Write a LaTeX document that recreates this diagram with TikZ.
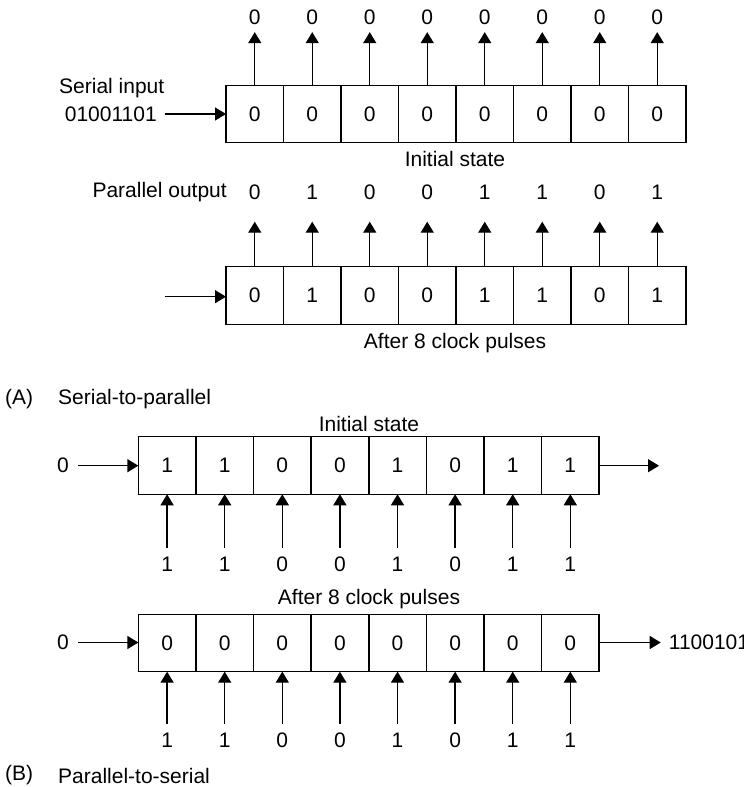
\documentclass[tikz,border=0pt]{standalone}
\usepackage{fontspec}
\setmainfont{Liberation Sans}
\usetikzlibrary{arrows.meta}
\begin{document}
\begin{tikzpicture}[x=1pt,y=-1pt,
  every node/.style={font=\fontsize{21}{24}\selectfont},
  cell/.style={draw,line width=1.3pt,minimum width=57.5pt,minimum height=57.5pt,inner sep=0pt,outer sep=0pt},
  lab/.style={inner sep=0pt},
  arr/.style={line width=1.3pt,-{Triangle[width=13pt,length=11pt]}},
  conn/.style={line width=1.3pt}]
\useasboundingbox (0,0) rectangle (744,787);
% ---------- (A) Register 1: initial state
\foreach \b [count=\i] in {0,0,0,0,0,0,0,0}{
  \node[cell] (a1c\i) at ({226+57.5*(\i-0.5)},113.9) {\b};
  \node[lab] (a1t\i) at ({226+57.5*(\i-0.5)},17) {\b};
  \draw[arr,shorten >=7.5pt] (a1c\i.north) -- (a1t\i.south);
}
\node[lab] (serin) at (111.7,88) {Serial input};
\node[lab] (serbits) at (110.8,114) {01001101};
\draw[arr] (serbits.east) ++(8,0) coordinate (sa) (sa) -- (a1c1.west |- sa);
\node[lab] (a1state) at (455,159) {Initial state};
% ---------- (A) Register 2: after 8 clock pulses
\foreach \b [count=\i] in {0,1,0,0,1,1,0,1}{
  \node[cell] (a2c\i) at ({226+57.5*(\i-0.5)},295.4) {\b};
  \node[lab] (a2t\i) at ({226+57.5*(\i-0.5)},192) {\b};
  \draw[arr,shorten >=29.7pt] (a2c\i.north) -- (a2t\i.center);
}
\node[lab,anchor=east] (parout) at (227,192) {Parallel output};
\coordinate (a2in) at (165,296.7);
\draw[arr] (a2in) -- (a2c1.west |- a2in);
\node[lab] (a2state) at (455,343) {After 8 clock pulses};
\node[lab,anchor=west] (capA1) at (5,399) {(A)};
\node[lab,anchor=west] (capA2) at (58,399) {Serial-to-parallel};
% ---------- (B) Register 1: initial state
\foreach \b [count=\i] in {1,1,0,0,1,0,1,1}{
  \node[cell] (b1c\i) at ({138.3+57.6*(\i-0.5)},465.5) {\b};
  \node[lab] (b1t\i) at ({138.3+57.6*(\i-0.5)},564) {\b};
  \draw[arr,shorten <=16.5pt] (b1t\i.center) -- (b1c\i.south);
}
\node[lab] (b1in) at (63,465.7) {0};
\draw[arr] (b1in.east) ++(9,0) coordinate (bia) (bia) -- (b1c1.west |- bia);
\coordinate (b1out) at (659,465.7);
\draw[arr] (b1c8.east |- b1out) -- (b1out);
\node[lab] (b1state) at (369,424) {Initial state};
% ---------- (B) Register 2: after 8 clock pulses
\foreach \b [count=\i] in {0,0,0,0,0,0,0,0}{
  \node[cell] (b2c\i) at ({138.3+57.6*(\i-0.5)},642.9) {\b};
}
\foreach \b [count=\i] in {1,1,0,0,1,0,1,1}{
  \node[lab] (b2t\i) at ({138.3+57.6*(\i-0.5)},740.7) {\b};
  \draw[arr,shorten <=16.5pt] (b2t\i.center) -- (b2c\i.south);
}
\node[lab] (b2in) at (63,642.5) {0};
\draw[arr] (b2in.east) ++(9,0) coordinate (bib) (bib) -- (b2c1.west |- bib);
\node[lab,anchor=west] (b2out) at (668.7,642.5) {11001011};
\draw[arr,shorten >=8pt] (b2c8.east |- b2out) -- (b2out.west);
\node[lab] (b2state) at (369,599) {After 8 clock pulses};
\node[lab,anchor=west] (capB1) at (5,775.5) {(B)};
\node[lab,anchor=west] (capB2) at (58,775.5) {Parallel-to-serial};
% thicker middle dividers
\foreach \r in {a1,a2,b1,b2}{
  \draw[line width=1.9pt] (\r c4.north east) -- (\r c4.south east);
}
\end{tikzpicture}
\end{document}
